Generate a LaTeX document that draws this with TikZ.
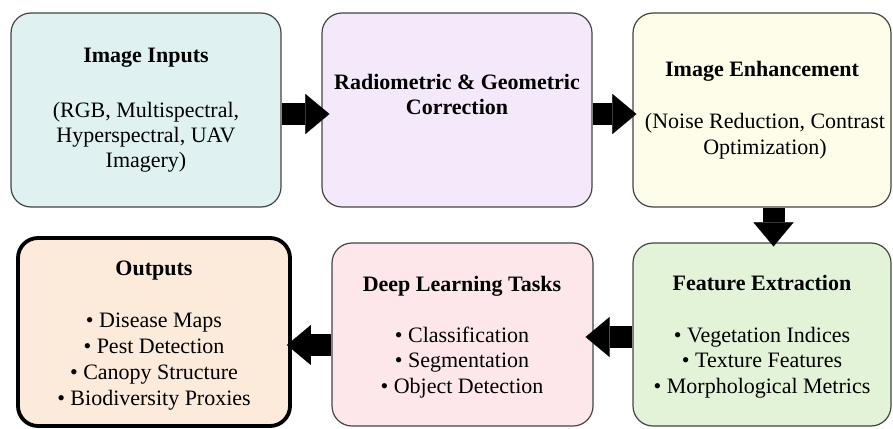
\documentclass[tikz,border=0pt]{standalone}
\usepackage{fontspec}
\setmainfont{Liberation Serif}
\usetikzlibrary{arrows.meta}
\definecolor{cIn}{HTML}{DFF2F1}
\definecolor{cRad}{HTML}{F4E9FB}
\definecolor{cEnh}{HTML}{FDFDE9}
\definecolor{cOut}{HTML}{FCEADB}
\definecolor{cDL}{HTML}{FDE7EA}
\definecolor{cFeat}{HTML}{E2F3D8}
\definecolor{cEdge}{HTML}{444444}
\tikzset{
  box/.style={draw=cEdge, line width=1.2pt, rounded corners=20pt, inner sep=0pt},
  outbox/.style={draw=black, line width=3.8pt, rounded corners=20pt, inner sep=0pt},
  ttl/.style={anchor=base, inner sep=0pt, font=\fontsize{22}{25}\selectfont\bfseries},
  body/.style={anchor=base, inner sep=0pt, font=\fontsize{22}{25}\selectfont},
  blk/.style={line width=22pt, -{Triangle[length=24pt,width=40pt,line width=0.1pt]}, black}
}
\newcommand{\lns}[1]{\begin{tabular}[t]{@{}c@{}}#1\end{tabular}}
\begin{document}
\begin{tikzpicture}[x=1pt,y=-1pt]
\useasboundingbox (0,0) rectangle (893,428);
% boxes
\node[box, fill=cIn, minimum width=270pt, minimum height=194pt] (b1) at (146,110) {};
\node[box, fill=cRad, minimum width=270pt, minimum height=194pt] (b2) at (457,110) {};
\node[box, fill=cEnh, minimum width=258pt, minimum height=194pt] (b3) at (762,110) {};
\node[outbox, fill=cOut, minimum width=272pt, minimum height=188pt] (b4) at (154,332) {};
\node[box, fill=cDL, minimum width=261pt, minimum height=183pt] (b5) at (462.5,334.5) {};
\node[box, fill=cFeat, minimum width=258pt, minimum height=183pt] (b6) at (762,334.5) {};
% texts
\node[ttl] (t1) at (146,63) {Image Inputs};
\node[body] (s1) at (146,117) {\renewcommand{\arraystretch}{1.0}\lns{(RGB, Multispectral,\\Hyperspectral, UAV\\Imagery)}};
\node[ttl] (t2) at (457,89) {\lns{Radiometric \& Geometric\\Correction}};
\node[ttl] (t3) at (762,77) {Image Enhancement};
\node[body] (s3) at (765,128) {\renewcommand{\arraystretch}{1.06}\lns{(Noise Reduction, Contrast\\Optimization)}};
\node[ttl] (t4) at (154,275) {Outputs};
\node[body] (s4) at (154,327) {\renewcommand{\arraystretch}{1.04}\lns{• Disease Maps\\• Pest Detection\\• Canopy Structure\\• Biodiversity Proxies}};
\node[ttl] (t5) at (462,291) {Deep Learning Tasks};
\node[body] (s5) at (462,342) {\renewcommand{\arraystretch}{1.02}\lns{• Classification\\• Segmentation\\• Object Detection}};
\node[ttl] (t6) at (762,290) {Feature Extraction};
\node[body] (s6) at (762,342) {\renewcommand{\arraystretch}{1.02}\lns{• Vegetation Indices\\• Texture Features\\• Morphological Metrics}};
% arrows
\draw[blk, shorten >=-8pt] ([yshift=-4pt]b1.east) -- ([yshift=-4pt]b2.west);
\draw[blk, shorten >=-4pt] ([yshift=-4pt]b2.east) -- ([yshift=-4pt]b3.west);
\draw[blk, shorten >=-4pt] ([xshift=11.5pt]b3.south) -- ([xshift=11.5pt]b6.north);
\draw[blk, shorten >=-8pt] ([yshift=-2.5pt]b6.west) -- ([yshift=-2.5pt]b5.east);
\draw[blk, shorten >=-5pt] ([yshift=-10.5pt]b5.west) -- ([yshift=-13pt]b4.east);
\end{tikzpicture}
\end{document}
